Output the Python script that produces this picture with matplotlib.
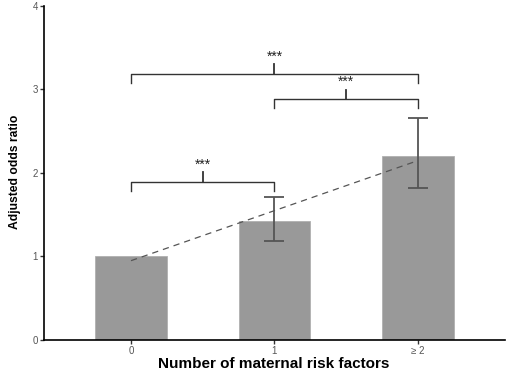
import matplotlib
matplotlib.use('Agg')
import matplotlib.pyplot as plt

plt.rcParams['font.family'] = ['Liberation Sans', 'DejaVu Sans']

# data
groups = ['0', '1', '\u2265 2']
odds = [1.0, 1.42, 2.2]
ci_low = [1.0, 1.18, 1.82]
ci_high = [1.0, 1.71, 2.66]
trend = [0.95, 2.13]

# significance brackets: (left bar, right bar, height, label)
brackets = [(0, 2, 3.19, '***'), (1, 2, 2.886, '***'), (0, 1, 1.896, '***')]

fig = plt.figure(figsize=(5.13, 3.72), dpi=100)
ax = fig.add_axes([0.086, 0.086, 0.898, 0.898])

x = range(len(groups))
ax.bar(x, odds, width=0.5, color='#999999', edgecolor='#b0b0b0', linewidth=0.6, zorder=1)

# error bars only where there is an interval
err_x = [i for i in x if ci_high[i] > ci_low[i]]
err_y = [odds[i] for i in err_x]
yerr = [[odds[i] - ci_low[i] for i in err_x], [ci_high[i] - odds[i] for i in err_x]]
ax.errorbar(err_x, err_y, yerr=yerr, fmt='none', ecolor='#555555', elinewidth=1.3,
            capsize=7, capthick=1.3, zorder=3)

# trend line
ax.plot([0, 1.97], trend, linestyle=(0, (5, 4)), color='#555555', linewidth=0.9, zorder=2)

for a, b, h, lab in brackets:
    drop = 0.11
    ax.plot([a, a, b, b], [h - drop, h, h, h - drop], color='#333333', linewidth=1.0)
    mid = (a + b) / 2
    ax.plot([mid, mid], [h, h + 0.11], color='#333333', linewidth=1.3)
    ax.text(mid, h + 0.12, lab, ha='center', va='bottom', fontsize=10, color='#222222')

ax.set_xlim(-0.606, 2.606)
ax.set_ylim(0, 4)
ax.set_xticks(list(x))
ax.set_xticklabels(groups)
ax.set_yticks([0, 1, 2, 3, 4])
ax.tick_params(axis='both', colors='#333333', labelcolor='#555555', labelsize=7,
               length=3, width=1, pad=1.5)
ax.spines['top'].set_visible(False)
ax.spines['right'].set_visible(False)
ax.spines['left'].set_linewidth(1.2)
ax.spines['bottom'].set_linewidth(1.2)

fig.text(274 / 513, 1 - 364 / 372, 'Number of maternal risk factors', ha='center', va='center',
         fontsize=11, fontweight='bold')
fig.text(15 / 513, 1 - 172 / 372, 'Adjusted odds ratio', ha='center', va='center',
         rotation=90, fontsize=8.7, fontweight='bold')

fig.savefig('out.png', dpi=100)
